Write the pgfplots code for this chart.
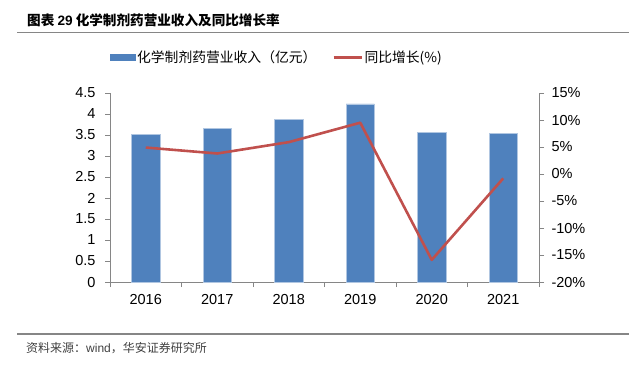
\documentclass[border=0pt]{standalone}
\usepackage{fontspec}
\setmainfont{Liberation Sans}
\newfontfamily\cjk{Noto Sans CJK SC}
\usepackage{pgfplots}
\pgfplotsset{compat=1.18}
\definecolor{barblue}{HTML}{4F81BD}
\definecolor{linered}{HTML}{C0504D}
\definecolor{axgray}{HTML}{868686}
\begin{document}
\begin{tikzpicture}[x=1pt,y=1pt]
\path[use as bounding box] (0pt,0pt) rectangle (629pt,-365pt);
\node[anchor=west, inner sep=0pt, font=\cjk\bfseries\fontsize{13.6}{15}\selectfont] at (27pt,-20pt) {图表\ {\rmfamily\bfseries 29}\ 化学制剂药营业收入及同比增长率};
\draw[axgray, line width=1.3pt] (17pt,-32.3pt) -- (629pt,-32.3pt);
\draw[axgray, line width=1.3pt] (17pt,-334pt) -- (629pt,-334pt);
\node[anchor=west, inner sep=0pt, font=\cjk\fontsize{12}{14}\selectfont, text=black!75] at (26pt,-348pt) {资料来源：{\rmfamily wind}，华安证券研究所};

\begin{axis}[at={(110pt,-282pt)}, anchor=south west, scale only axis,
  width=429pt, height=189pt,
  xmin=-0.5, xmax=5.5, ymin=0, ymax=4.5,
  ytick={0,0.5,1,1.5,2,2.5,3,3.5,4,4.5},
  xtick={0,1,2,3,4,5}, xticklabels={2016,2017,2018,2019,2020,2021},
  minor xtick={-0.5,0.5,1.5,2.5,3.5,4.5,5.5},
  axis x line*=bottom, axis y line*=left,
  axis line style={axgray, line width=0.8pt, -},
  tick style={axgray, line width=0.8pt}, tick align=outside,
  major x tick style={draw=none},
  major tick length=5pt, minor tick length=5pt,
  ticklabel style={font=\fontsize{14.5}{16}\selectfont, text=black},
  /pgf/number format/assume math mode=true,
  yticklabel style={/pgf/number format/fixed, xshift=-6pt},
  xticklabel style={yshift=-4pt},
  clip=false]
\addplot[ybar, bar width=28.3pt, fill=barblue, draw=white!55!barblue, line width=0.6pt]
  coordinates {(0,3.52) (1,3.66) (2,3.88) (3,4.24) (4,3.56) (5,3.54)};
\end{axis}

\begin{axis}[at={(110pt,-282pt)}, anchor=south west, scale only axis,
  width=429pt, height=189pt,
  xmin=-0.5, xmax=5.5, ymin=-20, ymax=15,
  ytick={-20,-15,-10,-5,0,5,10,15},
  yticklabel={\pgfmathprintnumber{\tick}\%},
  axis x line=none, axis y line*=right,
  axis line style={axgray, line width=0.8pt, -},
  tick style={axgray, line width=0.8pt}, tick align=outside,
  major tick length=5pt,
  ticklabel style={font=\fontsize{14.5}{16}\selectfont, text=black},
  yticklabel style={xshift=4pt},
  /pgf/number format/assume math mode=true,
  legend columns=2,
  legend style={draw=none, fill=none, at={(0,1.19)}, anchor=west, inner sep=0pt,
    font=\cjk\fontsize{13.8}{15}\selectfont,
    nodes={inner sep=1.5pt},
    /tikz/every even column/.append style={column sep=14pt}},
  clip=false]
\addlegendimage{legend image code/.code={\fill[barblue] (0pt,-3.3pt) rectangle (25pt,3.3pt);}}
\addlegendentry{化学制剂药营业收入（亿元）}
\addplot[linered, line width=2.6pt, line join=round,
  legend image code/.code={\draw[linered, line width=3pt] (0pt,0pt) -- (28pt,0pt);}]
  coordinates {(0,4.9) (1,3.8) (2,5.9) (3,9.5) (4,-15.9) (5,-0.8)};
\addlegendentry{同比增长(\%)}
\end{axis}
\end{tikzpicture}
\end{document}
